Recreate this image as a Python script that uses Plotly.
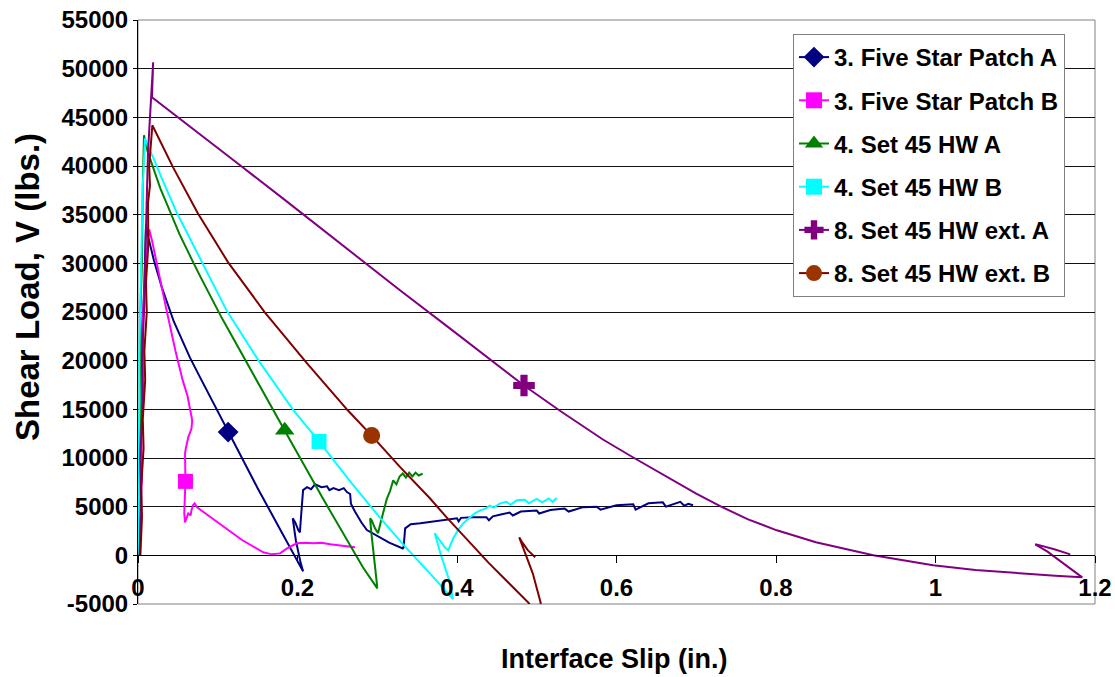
import plotly.graph_objects as go

# ---------------- data ----------------
names = ["3. Five Star Patch A", "3. Five Star Patch B", "4. Set 45 HW A",
         "4. Set 45 HW B", "8. Set 45 HW ext. A", "8. Set 45 HW ext. B"]

x_tick_vals = [0, 0.2, 0.4, 0.6, 0.8, 1.0, 1.2]
x_tick_text = ["0", "0.2", "0.4", "0.6", "0.8", "1", "1.2"]
y_tick_vals = [-5000, 0, 5000, 10000, 15000, 20000, 25000, 30000, 35000,
               40000, 45000, 50000, 55000]
y_tick_text = ["-5000", "0", "5000", "10000", "15000", "20000", "25000", "30000",
               "35000", "40000", "45000", "50000", "55000"]

# 3. Five Star Patch A
a3_x = [0.002, 0.004, 0.003, 0.006, 0.005, 0.008, 0.010, 0.0125, 0.020, 0.030, 0.045,
        0.065, 0.078, 0.099, 0.113, 0.122, 0.150, 0.180, 0.198, 0.205, 0.207, 0.204,
        0.198, 0.194, 0.197, 0.201, 0.203, 0.204, 0.206, 0.207, 0.212, 0.217, 0.222,
        0.230, 0.237, 0.240, 0.245, 0.252, 0.258, 0.262, 0.266, 0.267, 0.272, 0.280,
        0.287, 0.300, 0.315, 0.332, 0.333, 0.335, 0.342, 0.354, 0.370, 0.385, 0.400,
        0.402, 0.405, 0.420, 0.437, 0.440, 0.445, 0.455, 0.466, 0.470, 0.480, 0.500,
        0.503, 0.517, 0.535, 0.540, 0.558, 0.575, 0.580, 0.600, 0.621, 0.624, 0.640,
        0.658, 0.662, 0.680, 0.685, 0.690, 0.696]
a3_y = [0, 6000, 10000, 18000, 22000, 28000, 34000, 32800, 30300, 27500, 24000,
        20340, 18260, 14900, 12660, 11220, 6900, 2400, -300, -1350, -1650, -800,
        1500, 3800, 3400, 2600, 2360, 3500, 5800, 6700, 7000, 6800, 7300,
        7000, 7100, 6700, 6900, 6700, 6900, 6500, 6300, 5300, 4500, 3400,
        2600, 2000, 1300, 700, 800, 2770, 3200, 3300, 3500, 3650, 3800,
        3500, 3850, 3900, 3900, 3600, 4000, 4200, 4400, 4100, 4500, 4600,
        4300, 4650, 4800, 4500, 4950, 5000, 4700, 5150, 5250, 4700, 5350,
        5450, 5000, 5500, 5100, 5300, 5150]
a3_mark = 14

# 3. Five Star Patch B
b3_x = [0.002, 0.003, 0.005, 0.004, 0.007, 0.006, 0.010, 0.014, 0.0175, 0.0225, 0.035,
        0.047, 0.056, 0.062, 0.065, 0.068, 0.067, 0.063, 0.060, 0.059, 0.0595, 0.058,
        0.059, 0.063, 0.066, 0.067, 0.069, 0.071, 0.074, 0.100, 0.130, 0.157, 0.168,
        0.178, 0.187, 0.199, 0.210, 0.220, 0.230, 0.241, 0.255, 0.265, 0.272]
b3_y = [0, 5000, 8000, 12000, 20000, 24000, 30000, 33500, 32360, 30310, 25500,
        21000, 18000, 16400, 14900, 13870, 13000, 12120, 11000, 10480, 7600, 4310,
        3390, 4310, 4100, 4620, 5140, 5340, 4930, 3400, 1600, 310, 100,
        200, 720, 1230, 1280, 1230, 1300, 1130, 1000, 900, 820]
b3_mark = 20

# 4. Set 45 HW A
a4_x = [0.001, 0.003, 0.002, 0.004, 0.003, 0.005, 0.006, 0.0075, 0.012, 0.019, 0.028,
        0.038, 0.052, 0.068, 0.078, 0.105, 0.134, 0.160, 0.184, 0.195, 0.231, 0.260,
        0.282, 0.296, 0.300, 0.299, 0.296, 0.293, 0.291, 0.293, 0.297, 0.301, 0.304,
        0.307, 0.312, 0.316, 0.320, 0.324, 0.328, 0.332, 0.336, 0.340, 0.344, 0.348,
        0.352, 0.357]
a4_y = [0, 8000, 12000, 20000, 25000, 30300, 38000, 43150, 41500, 39860, 37700,
        35750, 33000, 30310, 28660, 24400, 20100, 16400, 12840, 11200, 5960, 1900,
        -1230, -2900, -3390, -2500, -500, 2000, 3800, 3600, 2800, 2260, 3300,
        4310, 5800, 6600, 7700, 7300, 8100, 8400, 8000, 8500, 8100, 8500,
        8200, 8400]
a4_mark = 18

# 4. Set 45 HW B
b4_x = [0.000, 0.001, 0.0005, 0.002, 0.0015, 0.004, 0.006, 0.0088, 0.013, 0.019, 0.030,
        0.049, 0.078, 0.111, 0.151, 0.169, 0.195, 0.227, 0.265, 0.303, 0.335, 0.366,
        0.395, 0.390, 0.380, 0.372, 0.378, 0.385, 0.389, 0.395, 0.401, 0.408, 0.415,
        0.422, 0.429, 0.436, 0.441, 0.446, 0.454, 0.462, 0.467, 0.475, 0.485, 0.490,
        0.500, 0.507, 0.515, 0.520, 0.525]
b4_y = [0, 6000, 11000, 16000, 20000, 30000, 38000, 42840, 41900, 40890, 38700,
        35140, 30410, 25170, 20030, 17980, 14900, 11700, 7700, 3900, 900, -1850,
        -4500, -2500, 0, 2260, 1600, 800, 510, 1700, 2570, 3300, 3800,
        4300, 4620, 4800, 5100, 4900, 5340, 5500, 5200, 5650, 5700, 5350,
        5800, 5450, 5850, 5500, 5900]
b4_mark = 17

# 8. Set 45 HW ext. A
a8_x = [0.002, 0.004, 0.003, 0.006, 0.005, 0.008, 0.009, 0.011, 0.0125, 0.015, 0.0165,
        0.018, 0.019, 0.0175, 0.065, 0.128, 0.182, 0.253, 0.3285, 0.391, 0.440, 0.484,
        0.530, 0.583, 0.621, 0.660, 0.700, 0.730, 0.765, 0.801, 0.850, 0.922, 0.997,
        1.050, 1.106, 1.150, 1.184, 1.160, 1.140, 1.125, 1.130, 1.150, 1.169]
a8_y = [0, 5000, 10000, 16000, 20000, 26000, 30300, 36000, 41300, 45000, 47500,
        49000, 50650, 47050, 44080, 40070, 36650, 32050, 27230, 23320, 20230, 17450,
        14800, 11900, 10050, 8200, 6350, 5050, 3700, 2570, 1350, 0, -1030,
        -1500, -1850, -2100, -2260, -800, 400, 1130, 1050, 600, 100]
a8_mark = 21

# 8. Set 45 HW ext. B
b8_x = [0.003, 0.005, 0.004, 0.007, 0.006, 0.009, 0.008, 0.011, 0.010, 0.013, 0.0125,
        0.015, 0.014, 0.016, 0.018, 0.044, 0.075, 0.113, 0.159, 0.212, 0.263, 0.293,
        0.310, 0.329, 0.366, 0.387, 0.440, 0.490, 0.500, 0.505, 0.495, 0.483, 0.478,
        0.482, 0.489, 0.498]
b8_y = [0, 4000, 7000, 11000, 14000, 18000, 21000, 25000, 28000, 32000, 36160,
        38000, 40000, 42000, 44180, 39860, 35140, 30100, 24970, 19730, 14900, 12300,
        10750, 9040, 5860, 3900, -800, -4900, -6500, -4900, -1850, 820, 1850,
        1300, 510, -200]
b8_mark = 21

# ---------------- styling ----------------
FONT = "Liberation Sans, Arial, sans-serif"
series = [
    (names[0], a3_x, a3_y, a3_mark, "#000080", "#000080", "diamond", 16),
    (names[1], b3_x, b3_y, b3_mark, "#FF00FF", "#FF00FF", "square", 15),
    (names[2], a4_x, a4_y, a4_mark, "#008000", "#008000", "triangle-up", 17),
    (names[3], b4_x, b4_y, b4_mark, "#00FFFF", "#00FFFF", "square", 15),
    (names[4], a8_x, a8_y, a8_mark, "#800080", "#800080", "cross", 18),
    (names[5], b8_x, b8_y, b8_mark, "#800000", "#993300", "circle", 17),
]

fig = go.Figure()
for name, xs, ys, mi, lc, mc, sym, ms in series:
    fig.add_trace(go.Scatter(x=xs, y=ys, mode="lines", line=dict(color=lc, width=2),
                             showlegend=False, hoverinfo="skip"))
    fig.add_trace(go.Scatter(x=[xs[mi]], y=[ys[mi]], mode="markers",
                             marker=dict(symbol=sym, size=ms, color=mc),
                             showlegend=False, hoverinfo="skip"))

for name, xs, ys, mi, lc, mc, sym, ms in series:
    fig.add_trace(go.Scatter(x=[None], y=[None], mode="lines+markers", name=name,
                             legendgroup=name,
                             line=dict(color=lc, width=2),
                             marker=dict(symbol=sym, size=16, color=mc)))

L, R, T, B = 138, 20, 20, 73
W, H = 1115, 677
PW, PH = W - L - R, H - T - B

fig.update_layout(
    width=W, height=H,
    margin=dict(l=L, r=R, t=T, b=B, autoexpand=False),
    paper_bgcolor="white", plot_bgcolor="white",
    font=dict(family=FONT, color="black"),
    showlegend=True,
    legend=dict(x=(793 - L) / PW, y=1 - (34 - T) / PH, xanchor="left", yanchor="top",
                bgcolor="white", bordercolor="#808080", borderwidth=1,
                font=dict(family=FONT, size=24, color="black", weight="bold"),
                traceorder="grouped", tracegroupgap=9),
    xaxis=dict(range=[0, 1.2], tickvals=x_tick_vals, ticktext=x_tick_text,
               showgrid=False, zeroline=False, showline=True, linecolor="black",
               linewidth=1, ticks="outside", ticklen=7, tickcolor="black",
               ticklabelstandoff=4,
               anchor="free", position=5000 / 60000, automargin=False,
               tickfont=dict(family=FONT, size=24, color="black", weight="bold")),
    yaxis=dict(range=[-5000, 55000], tickvals=y_tick_vals, ticktext=y_tick_text,
               showgrid=True, gridcolor="#111111", gridwidth=1,
               zeroline=True, zerolinecolor="black", zerolinewidth=1,
               showline=True, linecolor="black", linewidth=1, automargin=False,
               ticks="outside", ticklen=4, tickcolor="black",
               tickfont=dict(family=FONT, size=24, color="black", weight="bold")),
    shapes=[dict(type="rect", xref="paper", yref="paper", x0=0, x1=1, y0=0, y1=1,
                 line=dict(color="#808080", width=1), layer="below")],
    annotations=[
        dict(text="Interface Slip (in.)", xref="paper", yref="paper",
             x=(614 - L) / PW, y=1 - (659 - T) / PH,
             showarrow=False, xanchor="center", yanchor="middle",
             font=dict(family=FONT, size=27, color="black", weight="bold")),
        dict(text="Shear Load, V (lbs.)", xref="paper", yref="paper",
             x=(27 - L) / PW, y=1 - (287 - T) / PH,
             showarrow=False, xanchor="center", yanchor="middle", textangle=-90,
             font=dict(family=FONT, size=33, color="black", weight="bold")),
    ],
)

fig.write_html("out.html", config={"displayModeBar": False},
               post_script="document.body.style.margin='0';document.body.style.padding='0';")
